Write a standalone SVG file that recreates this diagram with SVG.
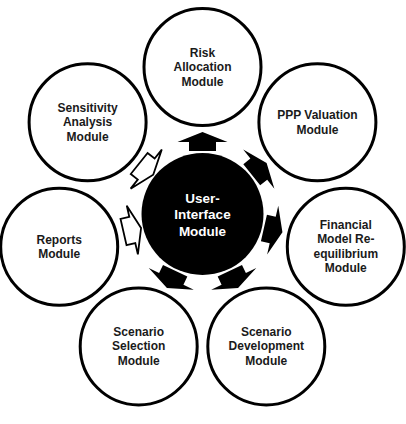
<svg xmlns="http://www.w3.org/2000/svg" xmlns:xlink="http://www.w3.org/1999/xlink" width="406" height="424" viewBox="0 0 406 424">
  <style>
    .node { fill: #ffffff; stroke: #000000; stroke-width: 3; }
    .hub { fill: #000000; }
    .label { font-family: "Liberation Sans", Arial, sans-serif; font-weight: bold; font-size: 12px; fill: #1a1a1a; text-anchor: middle; }
    .hub-label { font-family: "Liberation Sans", Arial, sans-serif; font-weight: bold; font-size: 13.5px; fill: #ffffff; text-anchor: middle; }
    .out { fill: #000000; }
    .in { fill: #ffffff; stroke: #000000; stroke-width: 1.8; stroke-linejoin: miter; }
  </style>
  <defs>
    <!-- squat block arrow pointing away from the hub -->
    <path id="arrow-out" d="M63,-13.5 H72 V-25 L82,0 L72,25 V13.5 H63 Z"/>
    <!-- same arrow pointing back toward the hub -->
    <path id="arrow-in" d="M81,-13.5 H72 V-25 L63,0 L72,25 V13.5 H81 Z"/>
  </defs>
  <rect width="406" height="424" fill="#ffffff"/>

  <!-- connectors around the hub -->
  <g id="connectors" transform="translate(202.5 214)">
    <use xlink:href="#arrow-out" class="out" transform="rotate(-90)"/>
    <use xlink:href="#arrow-out" class="out" transform="rotate(-38.57)"/>
    <use xlink:href="#arrow-out" class="out" transform="rotate(12.86)"/>
    <use xlink:href="#arrow-out" class="out" transform="rotate(64.29)"/>
    <use xlink:href="#arrow-out" class="out" transform="rotate(115.71)"/>
    <use xlink:href="#arrow-in" class="in" transform="rotate(167.14)"/>
    <use xlink:href="#arrow-in" class="in" transform="rotate(218.57)"/>
  </g>

  <g id="user-interface">
    <circle class="hub" cx="202.5" cy="214" r="61"/>
    <text class="hub-label" x="202.5" y="202.5">User-</text>
    <text class="hub-label" x="202.5" y="219">Interface</text>
    <text class="hub-label" x="202.5" y="235.5">Module</text>
  </g>

  <g id="risk-allocation">
    <circle class="node" cx="202.5" cy="67" r="58.5"/>
    <text class="label" x="202.5" y="56.5">Risk</text>
    <text class="label" x="202.5" y="71">Allocation</text>
    <text class="label" x="202.5" y="85.5">Module</text>
  </g>

  <g id="ppp-valuation">
    <circle class="node" cx="317.4" cy="122.3" r="58.5"/>
    <text class="label" x="317.4" y="119.3">PPP Valuation</text>
    <text class="label" x="317.4" y="133.8">Module</text>
  </g>

  <g id="financial-model">
    <circle class="node" cx="345.8" cy="246.7" r="58.5"/>
    <text class="label" x="345.8" y="228.8">Financial</text>
    <text class="label" x="345.8" y="243.3">Model Re-</text>
    <text class="label" x="345.8" y="257.8">equilibrium</text>
    <text class="label" x="345.8" y="272.3">Module</text>
  </g>

  <g id="scenario-development">
    <circle class="node" cx="266.3" cy="346.4" r="58.5"/>
    <text class="label" x="266.3" y="335.9">Scenario</text>
    <text class="label" x="266.3" y="350.4">Development</text>
    <text class="label" x="266.3" y="364.9">Module</text>
  </g>

  <g id="scenario-selection">
    <circle class="node" cx="138.7" cy="346.4" r="58.5"/>
    <text class="label" x="138.7" y="335.9">Scenario</text>
    <text class="label" x="138.7" y="350.4">Selection</text>
    <text class="label" x="138.7" y="364.9">Module</text>
  </g>

  <g id="reports">
    <circle class="node" cx="59.2" cy="246.7" r="58.5"/>
    <text class="label" x="59.2" y="243.7">Reports</text>
    <text class="label" x="59.2" y="258.2">Module</text>
  </g>

  <g id="sensitivity-analysis">
    <circle class="node" cx="87.6" cy="122.3" r="58.5"/>
    <text class="label" x="87.6" y="111.8">Sensitivity</text>
    <text class="label" x="87.6" y="126.3">Analysis</text>
    <text class="label" x="87.6" y="140.8">Module</text>
  </g>
</svg>
